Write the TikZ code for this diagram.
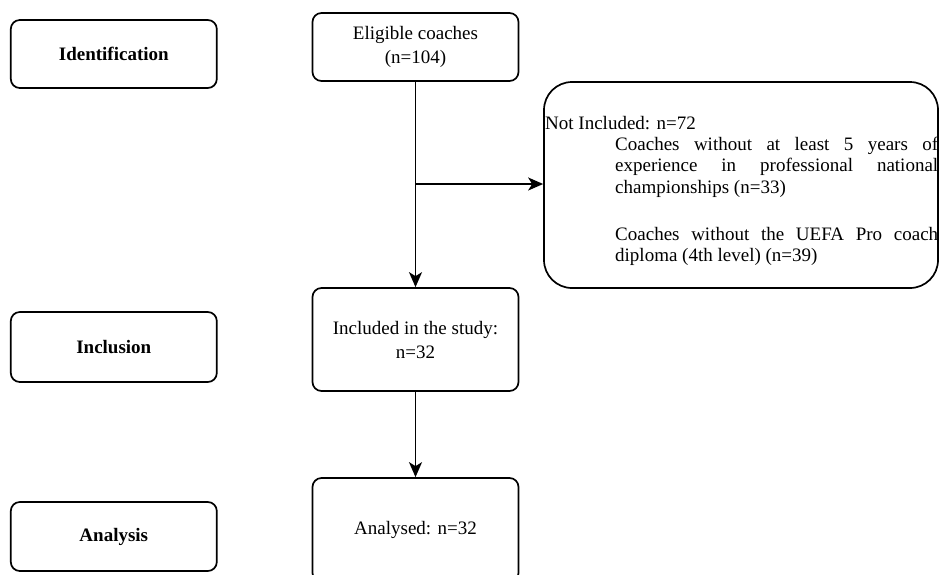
\documentclass[tikz,border=0pt]{standalone}
\usepackage{fontspec}
\setmainfont{Liberation Serif}
\usetikzlibrary{arrows.meta}
\newcommand{\justline}[1]{\hbox to 323pt{#1}}
\begin{document}
\begin{tikzpicture}[x=1pt,y=-1pt,
  box/.style={draw=black, line width=1.7pt, rounded corners=9pt, minimum width=206pt, inner sep=0pt, align=center, font=\fontsize{19}{24}\selectfont},
  stagebox/.style={box, font=\fontsize{19}{24}\selectfont\bfseries},
  bigbox/.style={draw=black, line width=1.7pt, rounded corners=28pt, inner sep=0pt},
  txt/.style={inner sep=0pt, font=\fontsize{19}{21.5}\selectfont},
  conn/.style={line width=1.7pt, -{Stealth[length=15pt, width=13pt, inset=4pt]}}]
\useasboundingbox (0,0) rectangle (939,574);
\clip (0,0) rectangle (939,574);
\fill[white] (0,0) rectangle (939,574);
% stage boxes
\node[stagebox, minimum height=68pt] (ident) at (113.8,54) {Identification};
\node[stagebox, minimum height=70pt] (inclu) at (113.8,347) {Inclusion};
\node[stagebox, minimum height=69pt] (analy) at (113.8,536.5) {Analysis};
% flow boxes
\node[box, minimum height=68pt] (elig) at (415.5,47) {Eligible coaches\\(n=104)};
\node[box, minimum height=103pt] (incd) at (415.5,339.5) {Included in the study:\\n=32};
\node[box, minimum height=104pt] (anld) at (415.5,530) {Analysed: n=32};
% excluded box
\node[bigbox, minimum width=394pt, minimum height=206pt] (notinc) at (741,185) {};
\node[txt, anchor=base west] (nihead) at (545,129) {Not Included: n=72};
\node[txt, anchor=base west] (crit1) at (615,150)
  {\parbox[t]{323pt}{\setlength{\parindent}{0pt}%
   \justline{Coaches\hfill without\hfill at\hfill least\hfill 5\hfill years\hfill of}
   \justline{experience\hfill in\hfill professional\hfill national}
   \justline{championships (n=33)\hfil}}};
\node[txt, anchor=base west] (crit2) at (615,240)
  {\parbox[t]{323pt}{\setlength{\parindent}{0pt}%
   \justline{Coaches\hfill without\hfill the\hfill UEFA\hfill Pro\hfill coach}
   \justline{diploma (4th level) (n=39)\hfil}}};
% connectors
\coordinate (junc) at (elig.south |- 0,184);
\draw[conn] (elig.south) -- (incd.north);
\draw[conn] (junc) -- (junc -| notinc.west);
\draw[conn] (incd.south) -- (anld.north);
\end{tikzpicture}
\end{document}
